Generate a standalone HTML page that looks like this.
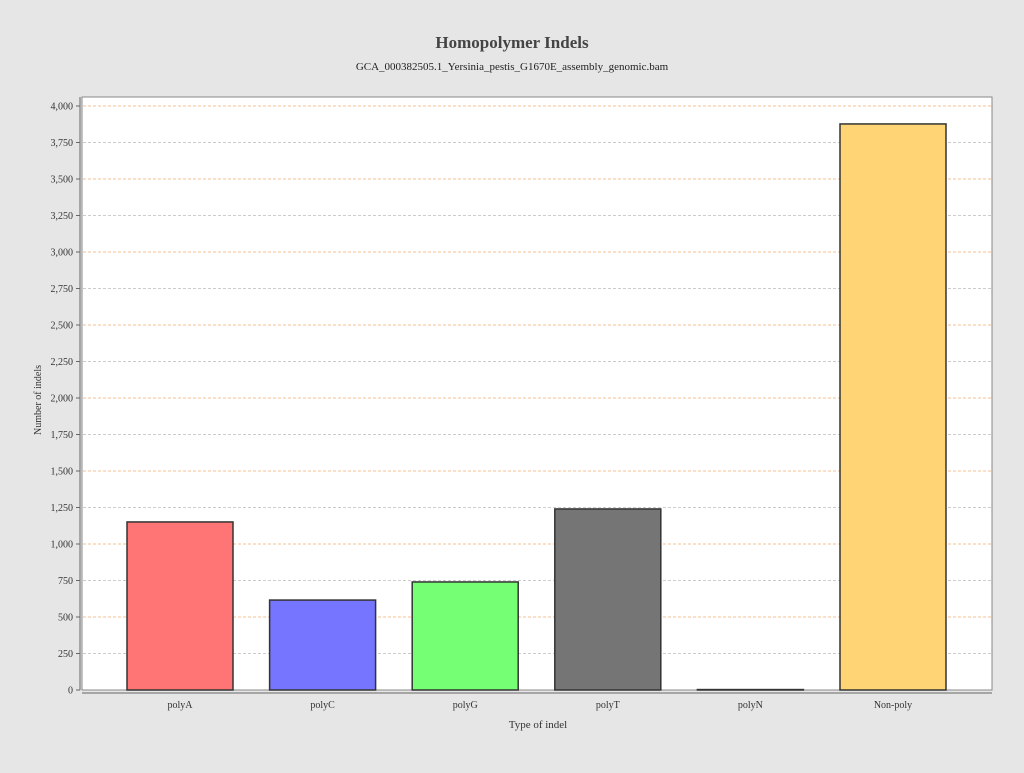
<!DOCTYPE html>
<html><head><meta charset="utf-8"><style>
body{margin:0;background:#e6e6e6;font-family:"Liberation Serif",serif;}
</style></head><body>
<svg width="1024" height="768" xmlns="http://www.w3.org/2000/svg" id="svg">
<rect width="1024" height="768" fill="#e6e6e6"/>
<text x="512" y="48" text-anchor="middle" font-size="17" font-weight="bold" fill="#444">Homopolymer Indels</text>
<text x="512" y="70" text-anchor="middle" font-size="11" fill="#222">GCA_000382505.1_Yersinia_pestis_G1670E_assembly_genomic.bam</text>
<rect x="82" y="97" width="910" height="593" fill="#fff" stroke="#888"/>
<g id="grid"></g><g id="bars"></g><g id="axes"></g>
<text x="538" y="728" text-anchor="middle" font-size="11" fill="#333">Type of indel</text>
<text transform="translate(41,400) rotate(-90)" text-anchor="middle" font-size="10" fill="#333">Number of indels</text>
</svg>
<script>
const categories=["polyA","polyC","polyG","polyT","polyN","Non-poly"];
const values=[1151,616,740,1240,3,3877];
const colors=["#ff7575","#7575ff","#75ff75","#757575","#ff75ff","#ffd475"];
const ticks=[0,250,500,750,1000,1250,1500,1750,2000,2250,2500,2750,3000,3250,3500,3750,4000];
const ns="http://www.w3.org/2000/svg";
const y=v=>690-v*584/4000;
const xc=i=>180+i*142.6;
function mk(t,a,p){const e=document.createElementNS(ns,t);for(const k in a)e.setAttribute(k,a[k]);document.getElementById(p).appendChild(e);return e;}
ticks.forEach(t=>{
 if(t>0){const g=mk('line',{x1:83,x2:991,y1:y(t),y2:y(t),stroke:(t/250)%2?'#ccc':'#f5c090','stroke-dasharray':'3,2','stroke-width':1},'grid');
 
 }
 const tk=mk('line',{x1:76,x2:80,y1:y(t),y2:y(t),stroke:'#666'},'axes');
 
 
 const l=mk('text',{x:73,y:y(t)+3.5,'text-anchor':'end','font-size':10,fill:'#333'},'axes');
 l.textContent=t.toLocaleString('en-US');
 
 
});
const ya=mk('line',{x1:80,x2:80,y1:97,y2:690,stroke:'#666'},'axes');


const xa=mk('line',{x1:82,x2:992,y1:693,y2:693,stroke:'#666'},'axes');


categories.forEach((c,i)=>{
 const b=mk('rect',{x:xc(i)-53,y:y(values[i]),width:106,height:690-y(values[i]),fill:colors[i],stroke:'#333','stroke-width':1.5},'bars');
 
 
 const l=mk('text',{x:xc(i),y:708,'text-anchor':'middle','font-size':10,fill:'#333'},'axes');
 l.textContent=c;
 
 
});
</script>
</body></html>
